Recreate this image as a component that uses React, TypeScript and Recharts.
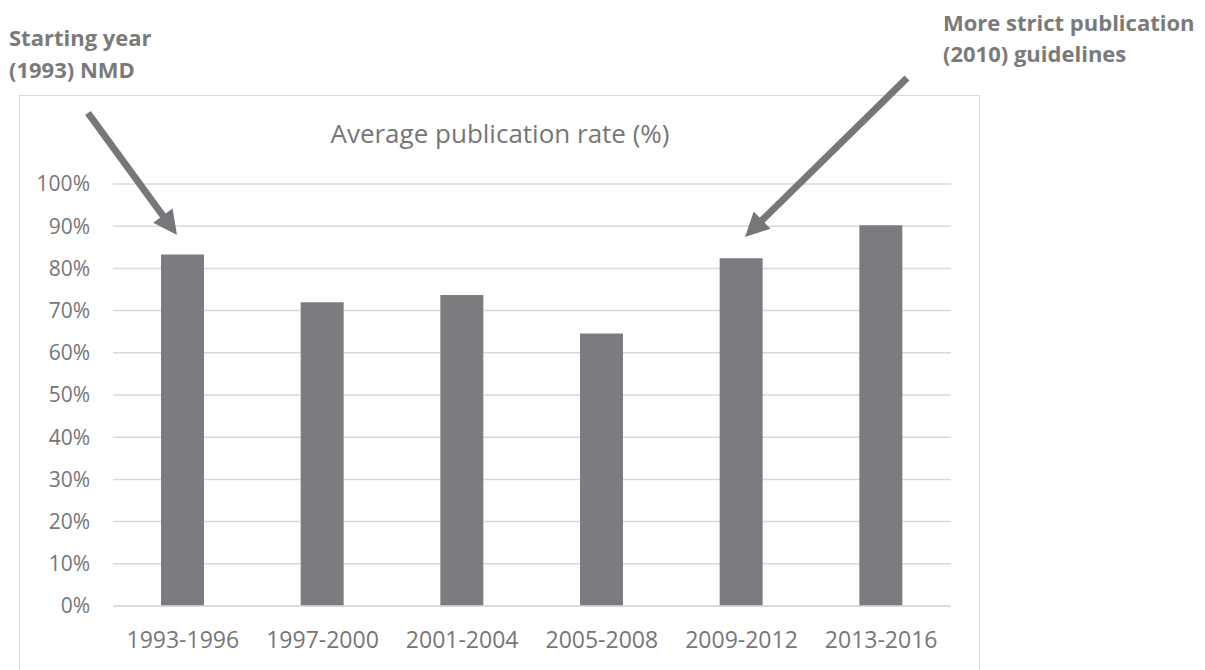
import React from "react";
import { BarChart, Bar, XAxis, YAxis, CartesianGrid } from "recharts";

const periods = ["1993-1996", "1997-2000", "2001-2004", "2005-2008", "2009-2012", "2013-2016"];
const publicationRate = [0.833, 0.72, 0.737, 0.646, 0.824, 0.902];
const yTicks = [0, 0.1, 0.2, 0.3, 0.4, 0.5, 0.6, 0.7, 0.8, 0.9, 1.0];
const chartTitle = "Average publication rate (%)";
const noteLeft = ["Starting year", "(1993) NMD"];
const noteRight = ["More strict publication", "(2010) guidelines"];

const data = periods.map((p, i) => ({ period: p, rate: publicationRate[i] }));

const FONT = "'Open Sans', 'Noto Sans', sans-serif";
const TEXT = "#767676";
const BAR = "#7b7c80";
const GRID = "#d9d9d9";
const ARROW = "#76777b";

// page coords minus body margin (8px)
const o = 8;

function Arrow({ x1, y1, x2, y2 }: { x1: number; y1: number; x2: number; y2: number }) {
  const dx = x2 - x1;
  const dy = y2 - y1;
  const len = Math.sqrt(dx * dx + dy * dy);
  const ux = dx / len;
  const uy = dy / len;
  const headLen = 24;
  const headHalf = 12;
  const bx = x2 - ux * headLen;
  const by = y2 - uy * headLen;
  const px = -uy;
  const py = ux;
  const pts = `${x2},${y2} ${bx + px * headHalf},${by + py * headHalf} ${bx - px * headHalf},${by - py * headHalf}`;
  return (
    <g>
      <line x1={x1} y1={y1} x2={bx + ux * 2} y2={by + uy * 2} stroke={ARROW} strokeWidth={7} />
      <polygon points={pts} fill={ARROW} />
    </g>
  );
}

export default function App() {
  return (
    <div style={{ position: "relative", width: 1189, height: 662, overflow: "hidden", fontFamily: FONT }}>
      <div
        style={{
          position: "absolute",
          left: 19 - o,
          top: 95 - o,
          width: 961,
          height: 640,
          border: `1.5px solid ${GRID}`,
          boxSizing: "border-box",
        }}
      />
      <div style={{ position: "absolute", left: 19 - o, top: 95 - o }}>
        <BarChart
          width={961}
          height={580}
          data={data}
          margin={{ top: 89, right: 29, left: 0, bottom: 39 }}
        >
          <CartesianGrid vertical={false} stroke={GRID} strokeWidth={1.5} />
          <XAxis
            dataKey="period"
            height={30}
            tickLine={false}
            axisLine={{ stroke: GRID, strokeWidth: 1.5 }}
            tick={{ fill: TEXT, fontSize: 23, fontFamily: FONT }}
            tickMargin={20}
            interval={0}
          />
          <YAxis
            width={94}
            domain={[0, 1]}
            ticks={yTicks}
            tickFormatter={(v: number) => `${Math.round(v * 100)}%`}
            axisLine={false}
            tickLine={false}
            tickMargin={17}
            tick={{ fill: TEXT, fontSize: 21, fontFamily: FONT }}
            interval={0}
          />
          <Bar dataKey="rate" fill={BAR} barSize={43} isAnimationActive={false} />
        </BarChart>
      </div>
      <svg
        width={1189}
        height={662}
        style={{ position: "absolute", left: 0, top: 0, pointerEvents: "none" }}
      >
        <text x={500 - o} y={143 - o} textAnchor="middle" fill={TEXT} fontSize={26} fontFamily={FONT}>
          {chartTitle}
        </text>
        <text x={9 - o} y={46 - o} fill="#7a7a7a" fontSize={22} fontWeight="bold" fontFamily={FONT}>
          {noteLeft[0]}
        </text>
        <text x={9 - o} y={78 - o} fill="#7a7a7a" fontSize={22} fontWeight="bold" fontFamily={FONT}>
          {noteLeft[1]}
        </text>
        <text x={943 - o} y={31 - o} fill="#7a7a7a" fontSize={22} fontWeight="bold" fontFamily={FONT}>
          {noteRight[0]}
        </text>
        <text x={943 - o} y={62 - o} fill="#7a7a7a" fontSize={22} fontWeight="bold" fontFamily={FONT}>
          {noteRight[1]}
        </text>
        <Arrow x1={88 - o} y1={113 - o} x2={177 - o} y2={235 - o} />
        <Arrow x1={907 - o} y1={78 - o} x2={745 - o} y2={237 - o} />
      </svg>
    </div>
  );
}
